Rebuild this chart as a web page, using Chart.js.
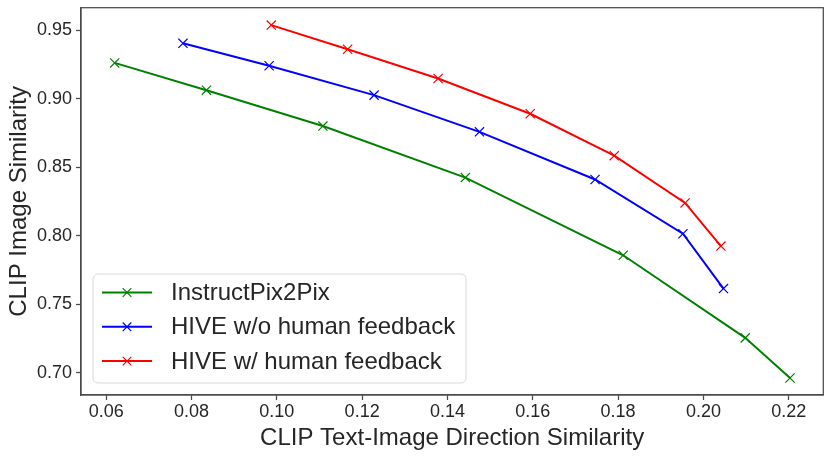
<!DOCTYPE html>
<html>
<head>
<meta charset="utf-8">
<script src="https://cdn.jsdelivr.net/npm/chart.js@4.4.1/dist/chart.umd.min.js"></script>
<style>
html,body{margin:0;padding:0;background:#fff;}
#wrap{position:relative;width:831px;height:458px;}
</style>
</head>
<body>
<div id="wrap"><canvas id="c" width="831" height="458"></canvas></div>
<script>
// ---- data ----
const seriesNames = ["InstructPix2Pix", "HIVE w/o human feedback", "HIVE w/ human feedback"];
const ip2pX = [0.0620, 0.0835, 0.1108, 0.1442, 0.1812, 0.2098, 0.2203];
const ip2pY = [0.9262, 0.9063, 0.8801, 0.8425, 0.7858, 0.7255, 0.6962];
const hiveNoFbX = [0.0780, 0.0982, 0.1228, 0.1475, 0.1746, 0.1952, 0.2047];
const hiveNoFbY = [0.9405, 0.9241, 0.9027, 0.8759, 0.8411, 0.8015, 0.7615];
const hiveFbX = [0.0987, 0.1166, 0.1378, 0.1594, 0.1791, 0.1957, 0.2041];
const hiveFbY = [0.9538, 0.9362, 0.9148, 0.8891, 0.8585, 0.8240, 0.7925];
const xTickValues = [0.06, 0.08, 0.10, 0.12, 0.14, 0.16, 0.18, 0.20, 0.22];
const yTickValues = [0.70, 0.75, 0.80, 0.85, 0.90, 0.95];
const xTitle = "CLIP Text-Image Direction Similarity";
const yTitle = "CLIP Image Similarity";

const colors = ["#008000", "#0000ff", "#ff0000"];
const xs = [ip2pX, hiveNoFbX, hiveFbX];
const ys = [ip2pY, hiveNoFbY, hiveFbY];

const FONT = "'Liberation Sans', Arial, sans-serif";
const TEXT = "#262626";
const FRAME = "#4a4a4a";

const datasets = seriesNames.map((name, i) => ({
  label: name,
  data: xs[i].map((x, j) => ({x: x, y: ys[i][j]})),
  borderColor: colors[i],
  backgroundColor: colors[i],
  borderWidth: 2,
  pointStyle: 'crossRot',
  pointRadius: 6.5,
  pointHoverRadius: 6.5,
  pointBorderWidth: 1.2,
  pointBorderColor: colors[i],
  tension: 0,
  fill: false
}));

const framePlugin = {
  id: 'frame',
  afterDraw(chart) {
    const {ctx, chartArea: a} = chart;
    ctx.save();
    ctx.strokeStyle = FRAME;
    ctx.lineWidth = 1.25;
    ctx.strokeRect(a.left, a.top, a.right - a.left, a.bottom - a.top);
    ctx.restore();
  }
};

function roundRect(ctx, x, y, w, h, r) {
  ctx.beginPath();
  ctx.moveTo(x + r, y);
  ctx.lineTo(x + w - r, y);
  ctx.arcTo(x + w, y, x + w, y + r, r);
  ctx.lineTo(x + w, y + h - r);
  ctx.arcTo(x + w, y + h, x + w - r, y + h, r);
  ctx.lineTo(x + r, y + h);
  ctx.arcTo(x, y + h, x, y + h - r, r);
  ctx.lineTo(x, y + r);
  ctx.arcTo(x, y, x + r, y, r);
  ctx.closePath();
}

const legendPlugin = {
  id: 'mplLegend',
  afterDraw(chart) {
    const {ctx, chartArea: a} = chart;
    const bx = a.left + 12, by = 274, bw = 373, bh = 109;
    ctx.save();
    roundRect(ctx, bx, by, bw, bh, 5);
    ctx.fillStyle = 'rgba(255,255,255,0.85)';
    ctx.fill();
    ctx.strokeStyle = '#d9d9d9';
    ctx.lineWidth = 1;
    ctx.stroke();
    chart.data.datasets.forEach((ds, i) => {
      const cy = 292.5 + i * 34.3;
      ctx.strokeStyle = ds.borderColor;
      ctx.lineWidth = 2;
      ctx.beginPath();
      ctx.moveTo(bx + 9, cy);
      ctx.lineTo(bx + 59, cy);
      ctx.stroke();
      const mx = bx + 34, d = 4.3;
      ctx.lineWidth = 1.2;
      ctx.beginPath();
      ctx.moveTo(mx - d, cy - d); ctx.lineTo(mx + d, cy + d);
      ctx.moveTo(mx - d, cy + d); ctx.lineTo(mx + d, cy - d);
      ctx.stroke();
      ctx.fillStyle = TEXT;
      ctx.font = "24px " + FONT;
      ctx.textBaseline = 'middle';
      ctx.textAlign = 'left';
      ctx.fillText(ds.label, bx + 78, cy + 1);
    });
    ctx.restore();
  }
};

new Chart(document.getElementById('c'), {
  type: 'line',
  data: {datasets},
  plugins: [framePlugin, legendPlugin],
  options: {
    responsive: false,
    animation: false,
    devicePixelRatio: 1,
    layout: {padding: {left: 0, top: 7, right: 7, bottom: 0}},
    plugins: {legend: {display: false}, tooltip: {enabled: false}},
    scales: {
      x: {
        type: 'linear',
        min: 0.0541,
        max: 0.2281,
        afterBuildTicks: s => { s.ticks = xTickValues.map(v => ({value: v})); },
        afterFit: s => { s.height = 63; s.paddingLeft = 0; s.paddingRight = 0; },
        ticks: {
          color: TEXT,
          font: {family: FONT, size: 18},
          padding: 1,
          maxRotation: 0,
          autoSkip: false,
          callback: v => Number(v).toFixed(2)
        },
        grid: {drawOnChartArea: false, drawTicks: true, tickLength: 5, tickColor: FRAME, tickWidth: 1.25},
        border: {display: true, color: FRAME, width: 1.25},
        title: {display: true, text: xTitle, color: TEXT, font: {family: FONT, size: 24}, padding: {top: 0, bottom: 5}}
      },
      y: {
        type: 'linear',
        min: 0.6838,
        max: 0.9665,
        afterBuildTicks: s => { s.ticks = yTickValues.map(v => ({value: v})); },
        afterFit: s => { s.width = 81; s.paddingTop = 0; s.paddingBottom = 0; },
        ticks: {
          color: TEXT,
          font: {family: FONT, size: 18},
          padding: 4,
          autoSkip: false,
          callback: v => Number(v).toFixed(2)
        },
        grid: {drawOnChartArea: false, drawTicks: true, tickLength: 5, tickColor: FRAME, tickWidth: 1.25},
        border: {display: true, color: FRAME, width: 1.25},
        title: {display: true, text: yTitle, color: TEXT, font: {family: FONT, size: 24}, padding: {top: 5, bottom: 0}}
      }
    }
  }
});
</script>
</body>
</html>
